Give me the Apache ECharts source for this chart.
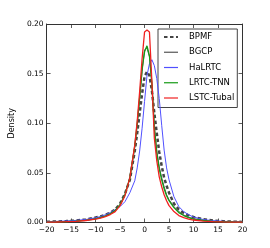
<!DOCTYPE html>
<html><head><meta charset="utf-8">
<script src="https://cdn.jsdelivr.net/npm/echarts@6/dist/echarts.min.js"></script>
<style>html,body{margin:0;padding:0;background:#fff}#c{width:270px;height:248px}</style>
</head><body><div id="c"></div>
<script>
const xs = [-20,-18,-16,-14,-12,-10,-9,-8,-7,-6,-5,-4,-3,-2,-1.5,-1,-0.5,0,0.5,1,1.5,2,2.5,3,3.5,4,4.5,5,6,7,8,9,10,12,14,16,18,20];
const bpmf = [0.0008,0.001,0.0014,0.002,0.003,0.005,0.0062,0.0078,0.01,0.013,0.019,0.029,0.043,0.072,0.09,0.11,0.13,0.147,0.152,0.148,0.133,0.11,0.09,0.071,0.057,0.045,0.037,0.03,0.019,0.013,0.0095,0.0072,0.0055,0.0033,0.002,0.0013,0.0009,0.0006];
const bgcp = [0.0005,0.0007,0.001,0.0015,0.0024,0.004,0.005,0.0068,0.009,0.0125,0.018,0.028,0.045,0.076,0.098,0.124,0.152,0.174,0.176,0.167,0.14,0.097,0.072,0.056,0.045,0.036,0.028,0.023,0.016,0.011,0.0075,0.0053,0.0038,0.0022,0.0013,0.0009,0.0006,0.0004];
const halrtc = [0.0008,0.0011,0.0015,0.0021,0.003,0.0048,0.006,0.0078,0.01,0.013,0.016,0.021,0.03,0.042,0.055,0.072,0.095,0.122,0.148,0.16,0.164,0.158,0.145,0.125,0.098,0.073,0.055,0.043,0.026,0.016,0.011,0.0078,0.0055,0.003,0.0018,0.0012,0.0008,0.0005];
const lrtctnn = [0.0004,0.0006,0.0009,0.0014,0.0022,0.0037,0.0048,0.0065,0.0088,0.012,0.018,0.028,0.045,0.077,0.1,0.126,0.155,0.172,0.178,0.168,0.14,0.095,0.07,0.054,0.043,0.034,0.027,0.022,0.015,0.01,0.007,0.005,0.0035,0.002,0.0012,0.0008,0.0005,0.0004];
const lstctubal = [0.0003,0.0005,0.0008,0.0012,0.002,0.0035,0.0045,0.006,0.008,0.011,0.017,0.027,0.045,0.078,0.102,0.132,0.165,0.192,0.194,0.192,0.142,0.085,0.062,0.046,0.036,0.028,0.022,0.017,0.011,0.007,0.005,0.0035,0.0025,0.0014,0.0009,0.0006,0.0004,0.0003];
const names = ['BPMF','BGCP','HaLRTC','LRTC-TNN','LSTC-Tubal'];
const xTicks = [-20,-15,-10,-5,0,5,10,15,20];
const yTicks = [0,0.05,0.1,0.15,0.2];

const font = 'DejaVu Sans';
const pair = ys => xs.map((x,i)=>[x,ys[i]]);
const styles = [
  {color:'#444444', width:2.5, type:[3.5,2.5]},
  {color:'#555555', width:1, type:'solid'},
  {color:'#5050ff', width:1, type:'solid'},
  {color:'#159a15', width:1.3, type:'solid'},
  {color:'#f02020', width:1.3, type:'solid'}
];
const data = [bpmf,bgcp,halrtc,lrtctnn,lstctubal];
const axisCommon = () => ({
  axisLine:{show:true,onZero:false,lineStyle:{color:'#333',width:1}},
  axisTick:{show:true,inside:true,length:4,lineStyle:{color:'#333',width:0.8}},
  splitLine:{show:false}
});
const chart = echarts.init(document.getElementById('c'));
chart.setOption({
  animation:false,
  grid:{left:34,right:27.5,top:24,bottom:25.5},
  legend:{
    orient:'vertical', left:158, top:29,
    data:names.map((n,i)=>({name:n,lineStyle:{width:i===0?2:1.2,color:styles[i].color,type:styles[i].type}})),
    itemWidth:14, itemHeight:7, itemGap:6.25,
    padding:[3.5,3,5,5],
    itemStyle:{opacity:0},
    borderColor:'#444', borderWidth:1, borderRadius:0, backgroundColor:'#fff',
    textStyle:{fontFamily:font,fontSize:8.5,color:'#000',padding:[0,0,0,6]}
  },
  xAxis:[
    Object.assign({type:'value',min:xTicks[0],max:xTicks[xTicks.length-1],interval:5,
      axisLabel:{fontFamily:font,fontSize:7.5,color:'#000',margin:4,
        formatter:v=>String(v).replace('-','\u2212')}},axisCommon()),
    Object.assign({type:'value',position:'top',min:-20,max:20,interval:5,axisLabel:{show:false}},axisCommon())
  ],
  yAxis:[
    Object.assign({type:'value',min:yTicks[0],max:yTicks[yTicks.length-1],interval:0.05,
      name:'Density',nameLocation:'middle',nameGap:24,
      nameTextStyle:{fontFamily:font,fontSize:8,color:'#000'},
      axisLabel:{fontFamily:font,fontSize:7.5,color:'#000',margin:3,formatter:v=>v.toFixed(2)}},axisCommon()),
    Object.assign({type:'value',position:'right',min:0,max:0.2,interval:0.05,axisLabel:{show:false}},axisCommon())
  ],
  series:names.map((n,i)=>({
    name:n,type:'line',data:pair(data[i]),showSymbol:false,symbol:'none',symbolSize:0,
    lineStyle:styles[i],itemStyle:{color:styles[i].color},z:2+i
  }))
});
</script></body></html>
